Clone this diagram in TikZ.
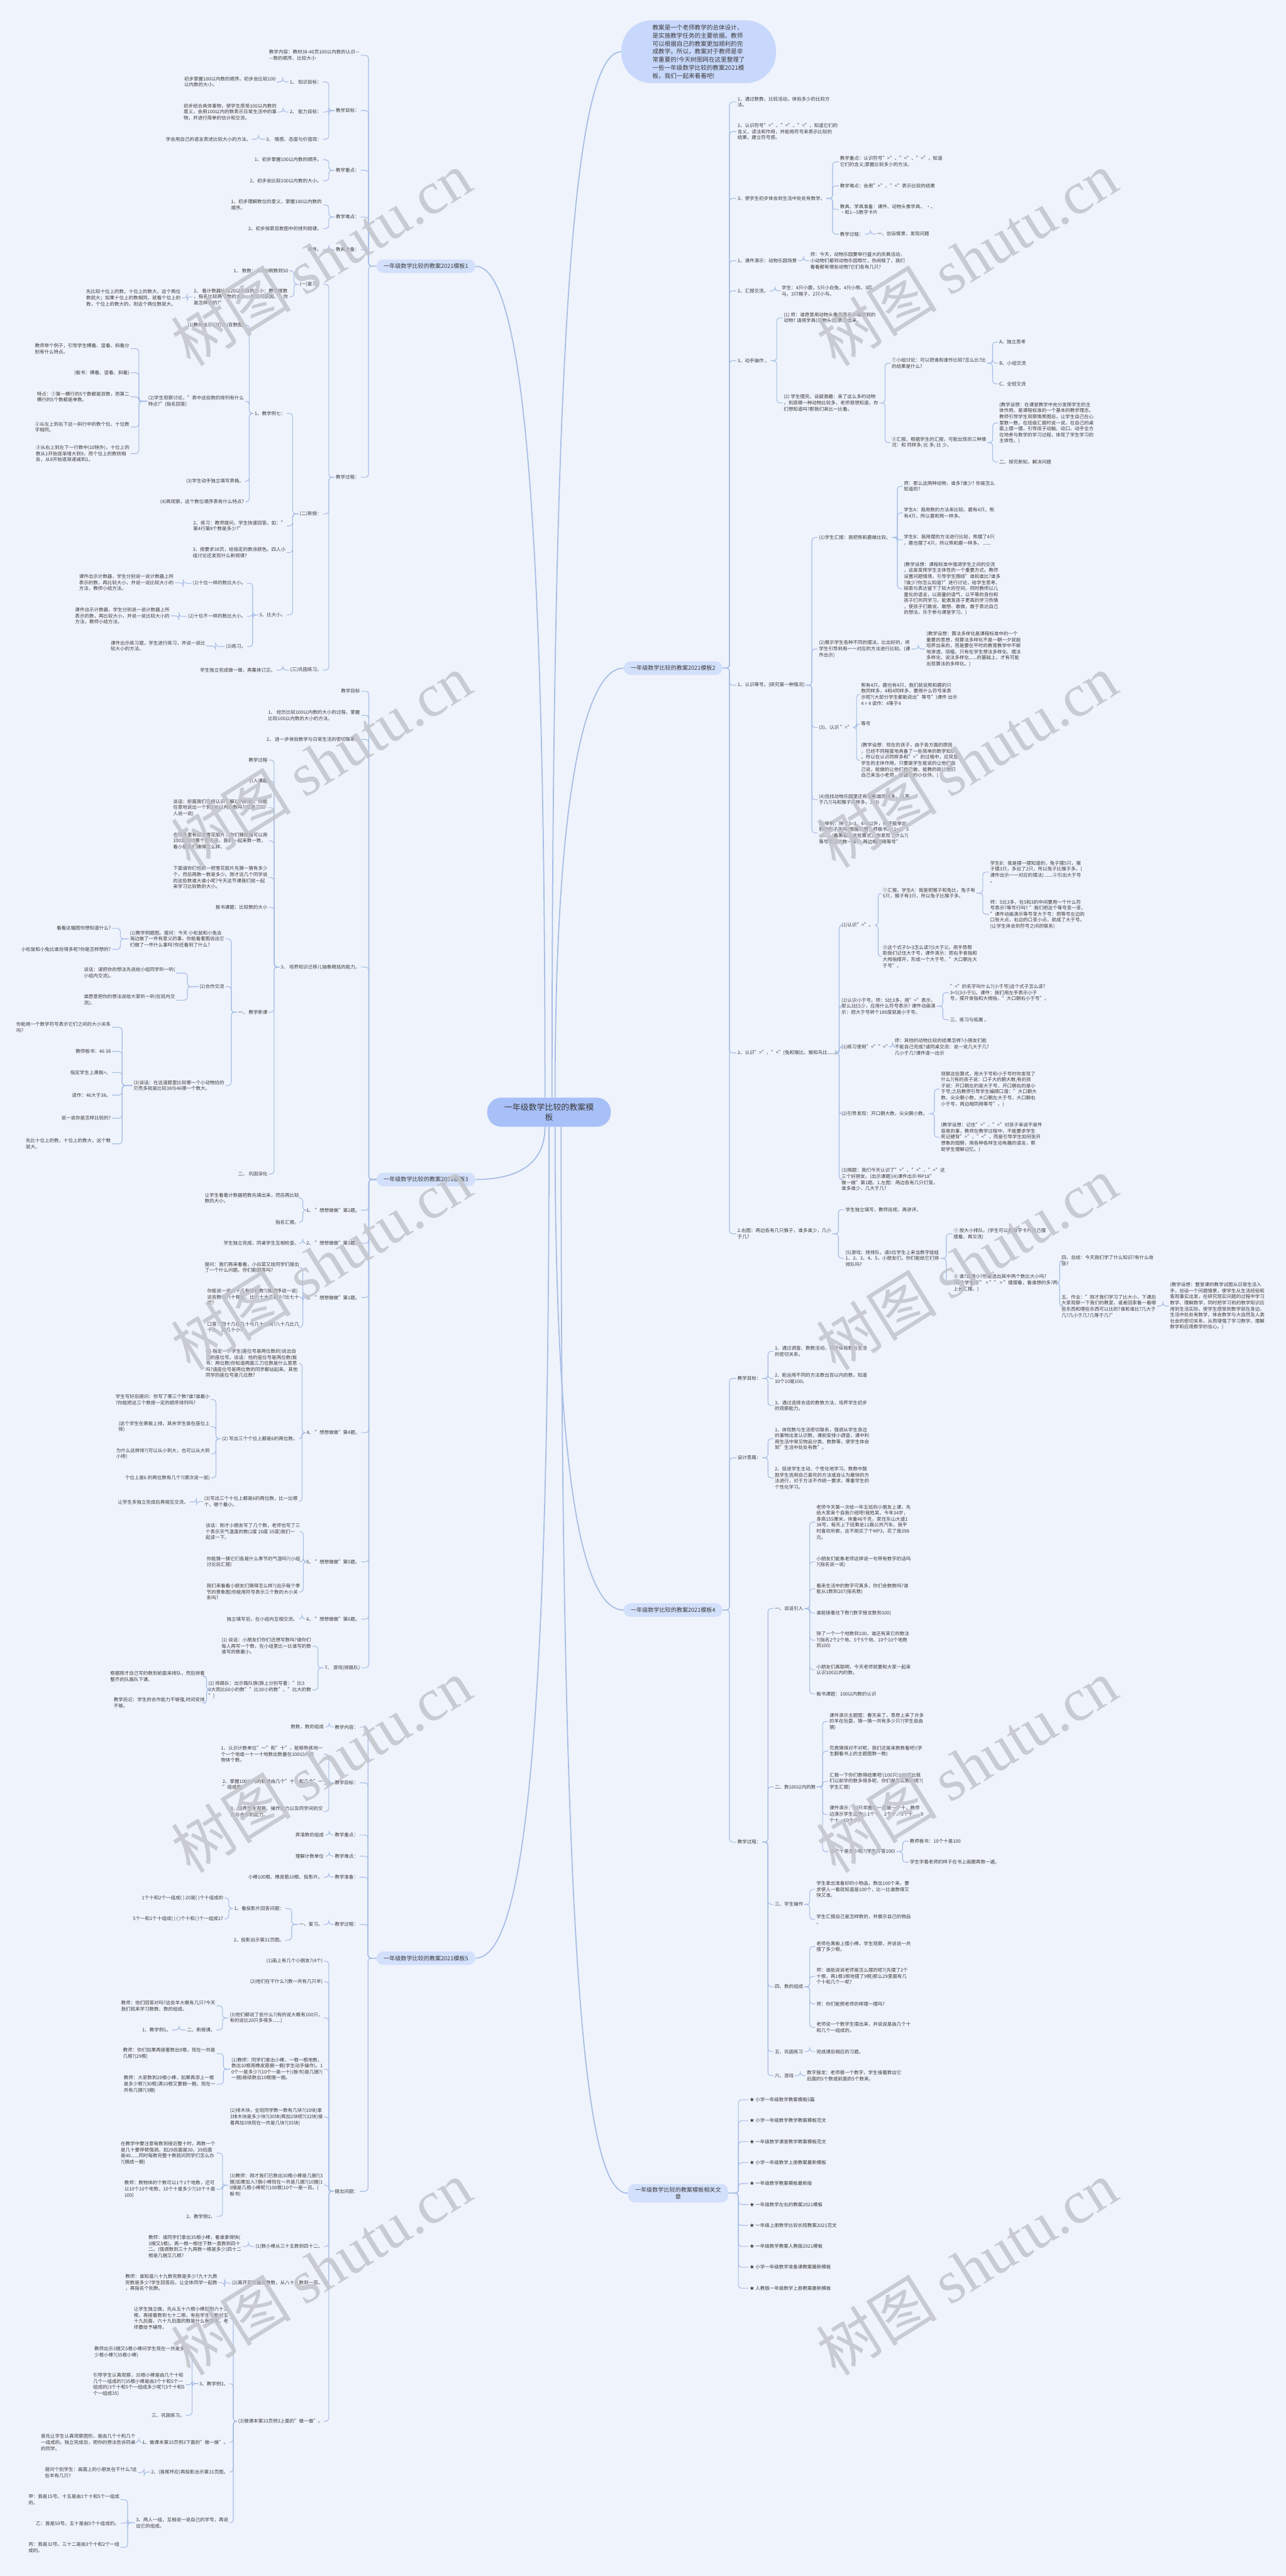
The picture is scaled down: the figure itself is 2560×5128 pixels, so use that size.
\documentclass[tikz,border=0pt]{standalone}
\usepackage{fontspec}
\setmainfont{Noto Sans CJK SC}
\newfontfamily\wmserif{Liberation Serif}
\usetikzlibrary{calc}
\definecolor{paper}{HTML}{EFF3FB}
\definecolor{wire}{HTML}{A6BDE6}
\definecolor{ink}{HTML}{3A3A3A}
\definecolor{pillblue}{HTML}{D3E0FC}
\definecolor{rootblue}{HTML}{A8C0F8}
\definecolor{introblue}{HTML}{C8D8FC}
\definecolor{wmgray}{HTML}{C2C5CB}
\tikzset{
  leaf/.style={font={\fontsize{4.7pt}{6pt}\selectfont}, text=ink, align=left, inner sep=1pt},
  lleaf/.style={leaf, anchor=east},
  rleaf/.style={leaf, anchor=west},
  link/.style={draw=wire, line width=0.7pt, rounded corners=3pt},
  trunk/.style={draw=wire, line width=1.1pt},
  pill/.style={rectangle, rounded corners=6.5pt, fill=pillblue, text=ink,
    font={\fontsize{5.7pt}{7pt}\selectfont}, inner xsep=7pt, inner ysep=3pt,
    minimum height=13.5pt, align=center},
  rootbox/.style={rectangle, rounded corners=14pt, fill=rootblue, text=ink,
    font={\fontsize{8.1pt}{10.5pt}\selectfont}, inner xsep=17pt, minimum height=29pt,
    align=center},
  introbox/.style={rectangle, rounded corners=30pt, fill=introblue, text=ink,
    font={\fontsize{6pt}{8pt}\selectfont}, inner xsep=31pt, inner ysep=3pt,
    minimum height=62.5pt, align=left},
  wmtext/.style={rotate=32, text=wmgray, opacity=0.85, font={\fontsize{60pt}{60pt}\selectfont}},
}
% elbow connectors: parent -> child
\newcommand\ljoin[2]{\draw[link] (#1.west) -| ($(#1.west)!.5!(#2.east)$) |- (#2.east);}
\newcommand\rjoin[2]{\draw[link] (#1.east) -| ($(#1.east)!.5!(#2.west)$) |- (#2.west);}
\newcommand\lfan[2]{\foreach \kid in {#2} {\ljoin{#1}{\kid}}}
\newcommand\rfan[2]{\foreach \kid in {#2} {\rjoin{#1}{\kid}}}

\begin{document}
\begin{tikzpicture}[x=0.5pt, y=-0.5pt]
  \fill[paper] (0,0) rectangle (2560,5128);
  \useasboundingbox (0,0) rectangle (2560,5128);

  \node[rootbox] (cen) at (1093,2214) {一年级数学比较的教案模\\板};
  \node[introbox] (intro) at (1391,103) {教案是一个老师教学的总体设计，\\是实施教学任务的主要依据。教师\\可以根据自己的教案更加顺利的完\\成教学。所以，教案对于教师是非\\常重要的!今天树图网在这里整理了\\一些一年级数学比较的教案2021模\\板，我们一起来看看吧!};
  \node[pill] (t1) at (848,530) {一年级数学比较的教案2021模板1};
  \node[pill] (t2) at (1340,1330) {一年级数学比较的教案2021模板2};
  \node[pill] (t3) at (848,2348) {一年级数学比较的教案2021模板3};
  \node[pill] (t4) at (1340,3205) {一年级数学比较的教案2021模板4};
  \node[pill] (t5) at (848,3898) {一年级数学比较的教案2021模板5};
  \node[pill] (rel) at (1350,4366) {一年级数学比较的教案模板相关文\\章};

  \draw[trunk] ([xshift=-4pt]cen.north) .. controls (1085,1000) and (1040,530) .. (t1.east);
  \draw[trunk] ([xshift=3pt]cen.north) .. controls (1099,700) and (1140,103) .. (intro.west);
  \draw[trunk] ([xshift=6pt]cen.north) .. controls (1105,1550) and (1170,1330) .. (t2.west);
  \draw[trunk] ([xshift=-4pt]cen.south) .. controls (1085,2330) and (1010,2348) .. (t3.east);
  \draw[trunk] (cen.south) .. controls (1093,3500) and (1040,3898) .. (t5.east);
  \draw[trunk] ([xshift=6pt]cen.south) .. controls (1105,2950) and (1160,3205) .. (t4.west);
  \draw[trunk] ([xshift=12pt]cen.south) .. controls (1117,4000) and (1170,4366) .. (rel.west);

  % branch 1
  \node[lleaf] (a1) at (718,110) {教学内容：教材38-40页100以内数的认识—\\—数的顺序、比较大小};
  \node[lleaf] (a2) at (718,220) {教学目标：};
  \node[lleaf] (a2a) at (643,163) {1、 知识目标：};
  \node[lleaf] (a2b) at (643,223) {2、 能力目标：};
  \node[lleaf] (a2c) at (643,277) {3、 情感、态度与价值观：};
  \node[lleaf] (a2a1) at (551,163) {初步掌握100以内数的顺序。初步会比较100\\以内数的大小。};
  \node[lleaf] (a2b1) at (553,223) {初步结合具体事物，使学生感受100以内数的\\意义，会用100以内的数表示日常生活中的事\\物，并进行简单的估计和交流。};
  \node[lleaf] (a2c1) at (502,277) {学会用自己的语言表述比较大小的方法。};
  \node[lleaf] (a3) at (718,339) {教学重点：};
  \node[lleaf] (a3a) at (643,318) {1、初步掌握100以内数的顺序。};
  \node[lleaf] (a3b) at (643,360) {2、初步会比较100以内数的大小。};
  \node[lleaf] (a4) at (718,432) {教学难点：};
  \node[lleaf] (a4a) at (643,408) {1、初步理解数位的意义，掌握100以内数的\\顺序。};
  \node[lleaf] (a4b) at (643,455) {2、初步探索百数图中的排列规律。};
  \node[lleaf] (a5) at (718,497) {教具准备：};
  \node[lleaf] (a5a) at (643,497) {课件。};
  \node[lleaf] (a6) at (718,950) {教学过程：};
  \node[lleaf] (b1) at (643,566) {(一)复习：};
  \node[lleaf] (b1a) at (576,539) {1、 数数：从100倒数到50};
  \node[lleaf] (b1b) at (576,591) {2、 看计数器比较20以内数的大小：教师拨数\\，指名比较两个数的大小，并说明原因。"你\\是怎样想的?"};
  \node[lleaf] (b1b1) at (362,593) {先比较十位上的数，十位上的数大，这个两位\\数就大；如果十位上的数相同，就看个位上的\\数，个位上的数大的，则这个两位数就大。};
  \node[lleaf] (b2) at (643,1023) {(二)新授：};
  \node[lleaf] (b2a) at (571,823) {1、教学例七：};
  \node[lleaf] (b2a1) at (488,647) {(1)教师出示幻灯片(百数图)};
  \node[lleaf] (b2a2) at (488,799) {(2)学生观察讨论，"表中这些数的排列有什么\\特点?"(指名回答)};
  \node[lleaf] (c1) at (260,694) {教师举个例子，引导学生横看、竖看、斜看分\\别有什么特点。};
  \node[lleaf] (c2) at (260,742) {(板书：横看、竖看、斜看)};
  \node[lleaf] (c3) at (260,790) {特点：①第一横行的5个数都是双数，而第二\\横行的5个数都是单数。};
  \node[lleaf] (c4) at (260,850) {②从左上到右下这一斜行中的数个位、十位数\\字相同。};
  \node[lleaf] (c5) at (260,903) {③从右上到左下一行数中(10除外)，十位上的\\数从1开始逐渐增大到9，而个位上的数则相\\反，从9开始逐渐递减到1。};
  \node[lleaf] (b2a3) at (488,958) {(3)学生动手独立填写表格。};
  \node[lleaf] (b2a4) at (488,999) {(4)再观察，这个数位顺序表有什么特点?};
  \node[lleaf] (b2b) at (571,1047) {2、练习：教师提问，学生快速回答。如："\\第4行第8个数是多少?"};
  \node[lleaf] (b2c) at (571,1100) {3、按要求38页，给指定的数涂颜色。四人小\\组讨论还发现什么新规律?};
  \node[lleaf] (b2d) at (571,1224) {3、比大小。};
  \node[lleaf] (b2d1) at (492,1161) {(1)十位一样的数比大小。};
  \node[lleaf] (b2d2) at (492,1227) {(2)十位不一样的数比大小。};
  \node[lleaf] (b2d3) at (492,1287) {(3)练习。};
  \node[lleaf] (d1) at (348,1160) {课件出示计数器，学生分别说一说计数器上所\\表示的数，再比较大小，并说一说比较大小的\\方法，教师小结方法。};
  \node[lleaf] (d2) at (340,1226) {课件出示计数器，学生分别说一说计数器上所\\表示的数，再比较大小，并说一说比较大小的\\方法，教师小结方法。};
  \node[lleaf] (d3) at (411,1286) {课件出示练习题，学生进行练习，并说一说比\\较大小的方法。};
  \node[lleaf] (b3) at (643,1334) {(三)巩固练习。};
  \node[lleaf] (b3a) at (551,1334) {学生独立完成做一做，再集体订正。};
  \lfan{t1}{a1,a2,a3,a4,a5,a6}
  \lfan{a2}{a2a,a2b,a2c}
  \ljoin{a2a}{a2a1} \ljoin{a2b}{a2b1} \ljoin{a2c}{a2c1}
  \lfan{a3}{a3a,a3b}
  \lfan{a4}{a4a,a4b}
  \ljoin{a5}{a5a}
  \lfan{a6}{b1,b2,b3}
  \lfan{b1}{b1a,b1b}
  \ljoin{b1b}{b1b1}
  \lfan{b2}{b2a,b2b,b2c,b2d}
  \lfan{b2a}{b2a1,b2a2,b2a3,b2a4}
  \lfan{b2a2}{c1,c2,c3,c4,c5}
  \lfan{b2d}{b2d1,b2d2,b2d3}
  \ljoin{b2d1}{d1} \ljoin{b2d2}{d2} \ljoin{b2d3}{d3}
  \ljoin{b3}{b3a}

  % branch 3
  \node[lleaf] (e1) at (719,1376) {教学目标};
  \node[lleaf] (e2) at (719,1424) {1、 经历比较100以内数的大小的过程，掌握\\比较100以内数的大小的方法。};
  \node[lleaf] (e3) at (719,1472) {2、 进一步体验数学与日常生活的密切联系。};
  \node[lleaf] (e4) at (719,1925) {3、 培养知识迁移儿抽象概括的能力。};
  \node[lleaf] (f1) at (535,1513) {教学过程};
  \node[lleaf] (f2) at (535,1555) {引入课题};
  \node[lleaf] (f3) at (535,1608) {谈话：前面我们已经认识了解以内的数，你能\\任意地说出一个到100以内的数吗?(指定三四\\人说一说)};
  \node[lleaf] (f4) at (535,1674) {老师手里有很多雪花胶片，你们猜猜看可以用\\100发内的哪个数表示。我们一起来数一数，\\看小朋友们猜得怎么样。};
  \node[lleaf] (f5) at (535,1747) {下面请你们也抓一把雪花胶片先猜一猜有多少\\个，然后再数一数是多少。刚才这几个同学说\\的这些数谁大谁小呢?今天这节课我们就一起\\来学习比较数的大小。};
  \node[lleaf] (f6) at (535,1806) {板书课题：比较数的大小};
  \node[lleaf] (f7) at (535,2015) {一、 教学新课};
  \node[lleaf] (g1) at (449,1869) {(1)教学例题图。提问：今天 小松鼠和小兔去\\海边做了一件有意义的事，你能看着图说出它\\们做了一件什么事吗?你还看到了什么?};
  \node[lleaf] (g1a) at (223,1848) {看看这幅图你想知道什么?};
  \node[lleaf] (g1b) at (223,1890) {小松鼠和小兔比谁捡得多呢?你是怎样想的?};
  \node[lleaf] (g2) at (449,1964) {(2)合作交流};
  \node[lleaf] (g2a) at (351,1937) {谈话：请把你的想法先说给小组同学听一听(\\小组内交流)。};
  \node[lleaf] (g2b) at (351,1991) {谁愿意把你的想法说给大家听一听(在班内交\\流)。};
  \node[lleaf] (g3) at (449,2161) {(3)谈话：在这道题里比较哪一个小动物捡的\\贝壳多就是比较38与46哪一个数大。};
  \node[lleaf] (g3a) at (223,2045) {你能用一个数学符号表示它们之间的大小关系\\吗?};
  \node[lleaf] (g3b) at (223,2093) {教师板书：46 38};
  \node[lleaf] (g3c) at (223,2135) {指定学生上黑板>。};
  \node[lleaf] (g3d) at (223,2180) {读作：46大于38。};
  \node[lleaf] (g3e) at (223,2226) {说一说你是怎样比较的?};
  \node[lleaf] (g3f) at (223,2277) {先比十位上的数，十位上的数大，这个数\\就大。};
  \node[lleaf] (f8) at (535,2337) {二、 巩固深化};
  \node[lleaf] (e5) at (719,2409) {1、 "想想做做"第2题。};
  \node[lleaf] (e5a) at (598,2385) {让学生看着计数器把数先填出来，然后再比较\\数的大小。};
  \node[lleaf] (e5b) at (598,2433) {指名汇报。};
  \node[lleaf] (e6) at (719,2475) {2、 "想想做做"第3题。};
  \node[lleaf] (e6a) at (598,2475) {学生独立完成，同桌学生互相检查。};
  \node[lleaf] (e7) at (719,2583) {3、 "想想做做"第1题。};
  \node[lleaf] (e7a) at (598,2523) {提问：我们再来看看，小白菜又给同学们提出\\了一个什么问题。你们能回答吗?};
  \node[lleaf] (e7b) at (598,2582) {你能说一说六十几有哪些数?(按顺序说一说)\\这些数与六十相比，比六十大还是小?比七十\\呢?};
  \node[lleaf] (e7c) at (598,2642) {口答：四十几在几十与几十之间?八十几比几\\十大，比几十小?};
  \node[lleaf] (e8) at (719,2852) {4、 "想想做做"第4题。};
  \node[lleaf] (e8a) at (595,2714) {(1) 指定一个学生(座位号是两位数的)说出自\\己的座位号。谈话：他的座位号是两位数(板\\书：两位数)你知道两面三刀位数是什么意思\\吗?请座位号是两位数的同学都站起来。其他\\同学的座位号是几位数?};
  \node[lleaf] (e8b) at (595,2864) {(2) 写出三个个位上都是6的两位数。};
  \node[lleaf] (h1) at (420,2786) {学生写好后提问：你写了哪三个数?谁?谁最小\\?你能把这三个数按一定的顺序排列吗?};
  \node[lleaf] (h2) at (420,2840) {(这个学生在黑板上排，其余学生装在座位上\\排)};
  \node[lleaf] (h3) at (420,2894) {为什么这样排?(可以从小到大，也可以从大到\\小排)};
  \node[lleaf] (h4) at (420,2942) {个位上是6 的两位数有几个?(顺次说一说)};
  \node[lleaf] (e8c) at (595,2989) {(3)写出三个十位上都是6的两位数，比一比哪\\个，哪个最小。};
  \node[lleaf] (e8c1) at (378,2990) {让学生多独立完成后再相互交流。};
  \node[lleaf] (e9) at (719,3109) {5、 "想想做做"第5题。};
  \node[lleaf] (e9a) at (600,3049) {谈话：刚才小朋友写了几个数，老师也写了三\\个表示天气温度的数(2度 20度 35度)我们一\\起读一下。};
  \node[lleaf] (e9b) at (600,3109) {你能猜一猜它们各是什么季节的气温吗?(小组\\讨论后汇报)};
  \node[lleaf] (e9c) at (600,3169) {我们来看看小朋友们猜得怎么样?(出示每个季\\节的景象图)你能用符号表示三个数的大小关\\系吗?};
  \node[lleaf] (e10) at (719,3223) {6、 "想想做做"第6题。};
  \node[lleaf] (e10a) at (595,3223) {独立填写后，在小组内互相交流。};
  \node[lleaf] (e11) at (719,3320) {7、 游戏(排路队)};
  \node[lleaf] (e11a) at (622,3277) {(1) 谈话：小朋友们你们还想写数吗?请你们\\每人再写一个数，在小组里比一比谁写的数\\谁写的数最小。};
  \node[lleaf] (e11b) at (622,3364) {(2) 排路队：出示路队旗(旗上分别写着："比3\\0大而比60小的数""比30小的数"、"比大的数\\")};
  \node[lleaf] (e11b1) at (410,3337) {根据刚才自己写的数到前面来排队，然后排着\\整齐的队路队下课。};
  \node[lleaf] (e11b2) at (410,3390) {教学后记：学生的合作能力不够强,时间安排\\不够。};
  \lfan{t3}{e1,e2,e3,e4,e5,e6,e7,e8,e9,e10,e11}
  \lfan{e4}{f1,f2,f3,f4,f5,f6,f7,f8}
  \lfan{f7}{g1,g2,g3}
  \lfan{g1}{g1a,g1b}
  \lfan{g2}{g2a,g2b}
  \lfan{g3}{g3a,g3b,g3c,g3d,g3e,g3f}
  \lfan{e5}{e5a,e5b}
  \ljoin{e6}{e6a}
  \lfan{e7}{e7a,e7b,e7c}
  \lfan{e8}{e8a,e8b,e8c}
  \lfan{e8b}{h1,h2,h3,h4}
  \ljoin{e8c}{e8c1}
  \lfan{e9}{e9a,e9b,e9c}
  \ljoin{e10}{e10a}
  \lfan{e11}{e11a,e11b}
  \lfan{e11b}{e11b1,e11b2}

  % branch 5
  \node[lleaf] (k1) at (716,3438) {教学内容：};
  \node[lleaf] (k1a) at (647,3438) {数数，数的组成};
  \node[lleaf] (k2) at (716,3549) {教学目标：};
  \node[lleaf] (k2a) at (645,3492) {1、认识计数单位"一"和"十"，能够熟练地一\\个一个地或一十一十地数出数量在100以内的\\物体个数。};
  \node[lleaf] (k2b) at (645,3552) {2、掌握100以内的数是由几个"十"和几个"一\\"组成的。};
  \node[lleaf] (k2c) at (645,3606) {3、培养学生观察、操作能力以及同学间的交\\流与合作的能力。};
  \node[lleaf] (k3) at (716,3653) {教学重点：};
  \node[lleaf] (k3a) at (647,3653) {弄清数的组成};
  \node[lleaf] (k4) at (716,3695) {教学难点：};
  \node[lleaf] (k4a) at (647,3695) {理解计数单位};
  \node[lleaf] (k5) at (716,3737) {教学准备：};
  \node[lleaf] (k5a) at (645,3737) {小棒100根、橡皮筋10根、投影片。};
  \node[lleaf] (k6) at (716,3831) {教学过程：};
  \node[lleaf] (k6a) at (645,3831) {一、复习。};
  \node[lleaf] (m1) at (568,3799) {1、看投影片回答问题：};
  \node[lleaf] (m1a) at (447,3778) {1个十和2个一组成( ) 20是( )个十组成的};
  \node[lleaf] (m1b) at (447,3820) {5个一和1个十组成( ) ( )个十和( )个一组成17};
  \node[lleaf] (m2) at (568,3862) {2、投影出示第31页图。};
  \node[lleaf] (k7) at (716,4362) {提出问题：};
  \node[lleaf] (n1) at (645,3904) {(1)画上有几个小朋友?(4个)};
  \node[lleaf] (n2) at (645,3945) {(2)他们在干什么?(数一共有几只羊)};
  \node[lleaf] (n3) at (645,4017) {(3)他们都说了些什么?(有的说大概有100只，\\有的说比20只多得多......)};
  \node[lleaf] (n3a) at (431,3993) {教师：他们回答对吗?这些羊大概有几只?今天\\我们就来学习数数、数的组成。};
  \node[lleaf] (n3b) at (431,4041) {二、新授课。};
  \node[lleaf] (n3b1) at (343,4041) {1、教学例1。};
  \node[lleaf] (n4) at (645,4119) {(1)教师：同学们拿出小棒，一根一根地数，\\数出10根用橡皮筋捆一捆(学生动手操作)。1\\0个一是多少?(10个一是一十)(板书)是几捆?(\\一捆)继续数出10根捆一捆。};
  \node[lleaf] (n4a) at (431,4088) {教师：你们如果再接着数出9根，现在一共是\\几根?(29根)};
  \node[lleaf] (n4b) at (431,4149) {教师：大家数到29根小棒，如果再添上一根\\是多少根?(30根)满10根又要捆一捆，现在一\\共有几捆?(3捆)};
  \node[lleaf] (n5) at (645,4214) {(2)排木块，全班同学数一数有几块?(10块)拿\\3排木块是多少块?(30块)再加2块呢?(32块)接\\着再加3块现在一共是几块?(35块)};
  \node[lleaf] (n6) at (645,4350) {(3)教师：刚才我们已数出30根小棒是几捆?(3\\捆)如果加入7捆小棒现在一共是几捆?(10捆)1\\0捆是几根小棒呢?(100根)10个一是一百。(\\板书)};
  \node[lleaf] (n6a) at (431,4286) {在教学中要注意每数到接近整十时，再数一个\\是几十要停顿强调。如29后面是30，39后面\\是40......同时每数完整十数就问同学们怎么办\\?(捆成一捆)};
  \node[lleaf] (n6b) at (431,4358) {教师：数物体的个数可以1个1个地数，还可\\以10个10个地数，10个十是多少?(10个十是\\100)};
  \node[lleaf] (n6c) at (431,4412) {2、教学例2。};
  \node[lleaf] (n7) at (645,4472) {(1)数小棒从三十五数到四十二。};
  \node[lleaf] (n7a) at (483,4472) {教师：请同学们拿出35根小棒，看谁拿得快(\\3捆又5根)，再一根一根往下数一直数到四十\\二。(强调数到三十九再数一根是多少)四十二\\根是几捆又几根?};
  \node[lleaf] (n8) at (645,4545) {(2)离开实物直接数数，从八十八数到一百。};
  \node[lleaf] (n8a) at (435,4544) {教师：谁知道八十九数完数是多少?九十九数\\完数是多少?学生回答后，让全体同学一起数\\，再指名个别数。};
  \node[lleaf] (n9) at (645,4820) {(3)做课本第33页例3上面的"做一做"。};
  \node[lleaf] (p1) at (457,4615) {让学生独立做，先从五十六根小棒数到六十三\\根，再接着数到七十二根，有些学生可能对五\\十九后面，六十九后面的数是什么有困难，老\\师要给予辅导。};
  \node[lleaf] (p2) at (457,4745) {3、教学例3。};
  \node[lleaf] (p2a) at (370,4682) {教师出示3捆又5根小棒问学生现在一共是多\\少根小棒?(35根小棒)};
  \node[lleaf] (p2b) at (370,4747) {引导学生认真观察，35根小棒是由几个十和\\几个一组成的?(35根小棒是由3个十和5个一\\组成的)3个十和5个一组成多少呢?(3个十和5\\个一组成35)};
  \node[lleaf] (p2c) at (370,4808) {三、巩固练习。};
  \node[lleaf] (p3) at (457,4862) {1、做课本第33页例3下面的"做一做"。};
  \node[lleaf] (p3a) at (272,4862) {首先让学生认真观察图形，是由几个十和几个\\一组成的。独立完成后，把你的想法告诉同桌\\的同学。};
  \node[lleaf] (p4) at (457,4921) {2、(首尾呼应)再投影出示第31页图。};
  \node[lleaf] (p4a) at (275,4922) {提问个别学生：画面上的小朋友在干什么?这\\些羊有几只?};
  \node[lleaf] (p5) at (457,5022) {3、两人一组，互相说一说自己的学号，再说\\出它的组成。};
  \node[lleaf] (p5a) at (240,4976) {甲：我是15号。十五是由1个十和5个一组成\\的。};
  \node[lleaf] (p5b) at (240,5023) {乙：我是50号。五十是由5个十组成的。};
  \node[lleaf] (p5c) at (240,5071) {丙：我是32号。三十二是由3个十和2个一组\\成的。};
  \lfan{t5}{k1,k2,k3,k4,k5,k6,k7}
  \ljoin{k1}{k1a}
  \lfan{k2}{k2a,k2b,k2c}
  \ljoin{k3}{k3a} \ljoin{k4}{k4a} \ljoin{k5}{k5a} \ljoin{k6}{k6a}
  \lfan{k6a}{m1,m2}
  \lfan{m1}{m1a,m1b}
  \lfan{k7}{n1,n2,n3,n4,n5,n6,n7,n8,n9}
  \lfan{n3}{n3a,n3b}
  \ljoin{n3b}{n3b1}
  \lfan{n4}{n4a,n4b}
  \lfan{n6}{n6a,n6b,n6c}
  \ljoin{n7}{n7a} \ljoin{n8}{n8a}
  \lfan{n9}{p1,p2,p3,p4,p5}
  \lfan{p2}{p2a,p2b,p2c}
  \ljoin{p3}{p3a} \ljoin{p4}{p4a}
  \lfan{p5}{p5a,p5b,p5c}

  % branch 2
  \node[rleaf] (r1) at (1466,203) {1、通过数数、比较活动，体验多少的比较方\\法。};
  \node[rleaf] (r2) at (1466,262) {2、认识符号">"、"<"、"="，知道它们的\\含义、读法和作用，并能用符号来表示比较的\\结果，建立符号感。};
  \node[rleaf] (r3) at (1466,395) {3、使学生初步体会到生活中处处有数学。};
  \node[rleaf] (r3a) at (1670,322) {教学重点：认识符号">"、"<"、"="，知道\\它们的含义;掌握比较多少的方法。};
  \node[rleaf] (r3b) at (1670,370) {教学难点：会用">"、"<"表示比较的结果};
  \node[rleaf] (r3c) at (1670,417) {教具、学具准备：课件、动物头像学具、 •、\\•和1—5数字卡片};
  \node[rleaf] (r3d) at (1670,466) {教学过程：};
  \node[rleaf] (r3d1) at (1744,466) {一、创设情景，发现问题};
  \node[rleaf] (r4) at (1466,519) {1、课件演示：动物乐园场景};
  \node[rleaf] (r4a) at (1611,519) {师：今天，动物乐园要举行盛大的庆典活动，\\小动物们都到动物乐园帮忙，热闹极了，我们\\看看都有哪些动物?它们各有几只?};
  \node[rleaf] (r5) at (1466,579) {2、汇报交流。};
  \node[rleaf] (r5a) at (1554,579) {学生：4只小鹿，5只小白兔，4只小熊，3匹\\马，3只猴子，2只小鸟。};
  \node[rleaf] (r6) at (1466,718) {3、动手操作 。};
  \node[rleaf] (r6a) at (1558,633) {(1) 师：谁愿意用动物头像来表示你观察到的\\动物? 请用学具(动物头像)表示出来。};
  \node[rleaf] (r6b) at (1558,802) {(2) 学生摆完，设疑激趣：来了这么多的动物\\，到底哪一种动物比较多，老师很想知道，你\\们想知道吗?那我们来比一比看。};
  \node[rleaf] (s1) at (1773,723) {①小组讨论：可以把谁和谁作比较?怎么比?比\\的结果是什么?};
  \node[rleaf] (s1a) at (1987,681) {A、独立思考};
  \node[rleaf] (s1b) at (1987,723) {B、小组交流};
  \node[rleaf] (s1c) at (1987,764) {C、全班交流};
  \node[rleaf] (s2) at (1773,881) {②汇报，根据学生的汇报，可能出现的三种情\\况：和 同样多; 比 多; 比 少。};
  \node[rleaf] (s2a) at (1987,842) {(教学设想：在课堂教学中充分发挥学生的主\\体作用，是课程标准的一个基本的教学理念。\\教师引导学生观察情景图后，让学生自己在心\\里数一数，在班级汇报时说一说，在自己的桌\\面上摆一摆，引导孩子动脑、动口、动手全方\\位地参与数学的学习过程，体现了学生学习的\\主体性。)};
  \node[rleaf] (s2b) at (1987,920) {二、探究新知，解决问题};
  \node[rleaf] (r7) at (1466,1364) {1、认识等号。(研究第一种情况)};
  \node[rleaf] (u1) at (1628,1070) {(1)学生汇报：我把熊和鹿做比较。};
  \node[rleaf] (u1a) at (1797,968) {师：那么这两种动物，谁多?谁少? 你是怎么\\知道的?};
  \node[rleaf] (u1b) at (1797,1021) {学生A：我用数的方法来比较。鹿有4只，熊\\有4只，所以鹿和熊一样多。};
  \node[rleaf] (u1c) at (1797,1075) {学生B：我用摆的方法进行比较，熊摆了4只\\，鹿也摆了4只，所以熊和鹿一样多。 ......};
  \node[rleaf] (u1d) at (1797,1172) {(教学设想：课程标准中强调学生之间的交流\\，这是发挥学生主体性的一个重要方式。教师\\设置问题情境，引导学生围绕"谁和谁比?谁多\\?谁少?你怎么知道?"进行讨论，给学生思考、\\探索与表达留下了较大的空间。同时教师以儿\\童化的语言，以商量的语气，以平等的身份和\\孩子们共同学习，能激发孩子更高的学习热情\\，使孩子们敢说、敢想、敢做，敢于表达自己\\的想法，乐于参与课堂学习。)};
  \node[rleaf] (u2) at (1628,1292) {(2)展示学生各种不同的摆法，比出好的，将\\学生引导到用一一对应的方法进行比较。(课\\件出示)};
  \node[rleaf] (u2a) at (1842,1292) {(教学设想：算法多样化是课程标准中的一个\\重要的思想，但算法多样化不是一朝一夕就能\\培养出来的，而是要在平时的教育教学中不断\\地渗透、培植。只有在学生想法多样化、摆法\\多样化、说法多样化......的基础上，才有可能\\出现算法的多样化。)};
  \node[rleaf] (u3) at (1628,1448) {(3)、认识 "="};
  \node[rleaf] (u3a) at (1712,1382) {熊有4只，鹿也有4只，我们就说熊和鹿的只\\数同样多，4和4同样多，要用什么符号来表\\示呢?(大部分学生都能说出"等号")课件 出示\\4 = 4 读作：4等于4};
  \node[rleaf] (u3b) at (1712,1441) {等号};
  \node[rleaf] (u3c) at (1712,1514) {(教学设想：现在的孩子，由于各方面的原因\\，已经不同程度地具备了一些简单的数学知识\\。所以在认识同样多和"="的过程中，应突显\\学生的主体作用，只要是学生能说的让他们自\\己说，能做的让他们自己做，能教的就让他们\\自己来当小老师，教自己的小伙伴。)};
  \node[rleaf] (u4) at (1628,1592) {(4)找找动物乐园里还有谁和谁同样多，几等\\于几?(马和猴子同样多，3=3)};
  \node[rleaf] (u5) at (1628,1658) {(5)举例：除了3=3，4=4以外，你还能举出\\别的例子来吗?根据汇报，师板书。(1=1，5\\=5......)看黑板上这些算式，你发现了什么?(\\等号两边的数一样)"两边相同用等号"};
  \node[rleaf] (r8) at (1466,2096) {2、认识">"、"<"(兔和猴比、猴和鸟比......)};
  \node[rleaf] (v1) at (1673,1842) {(1)认识">"。};
  \node[rleaf] (v1a) at (1755,1778) {①汇报。学生A：我是把猴子和兔比，兔子有\\5只，猴子有3只，所以兔子比猴子多。};
  \node[rleaf] (v1a1) at (1969,1736) {学生B：我是摆一摆知道的，兔子摆5只，猴\\子摆3只，多出了2只，所以兔子比猴子多。(\\课件出示一一对应的摆法) ......②引出大于号\\。};
  \node[rleaf] (v1a2) at (1969,1820) {师：5比3多，在5和3的中间要用一个什么符\\号表示?等号行吗? "我们把这个等号变一变，\\"课件动画演示等号变大于号：把等号左边的\\口张大点，右边的口变小点，就成了大于号。\\(让学生体会到符号之间的联系)};
  \node[rleaf] (v1b) at (1755,1904) {③这个式子5>3怎么读?(5大于3)，用手势帮\\助我们记住大于号，课件演示：把右手食指和\\大拇指撑开，形成一个大于号，"大口朝左大\\于号"。};
  \node[rleaf] (v2) at (1673,2003) {(2)认识小于号。师：5比3多，用">"表示，\\那么3比5少，应用什么符号表示? 课件动画演\\示：把大于号转个180度就是小于号。};
  \node[rleaf] (v2a) at (1889,1976) {"<"的名字叫什么?(小于号)这个式子怎么读?\\3<5(3小于5)。课件：我们用左手表示小于\\号，撑开食指和大拇指，"大口朝右小于号"。};
  \node[rleaf] (v2b) at (1889,2030) {三、练习与拓展 。};
  \node[rleaf] (v3) at (1673,2084) {(1)练习使用"<"">"};
  \node[rleaf] (v3a) at (1779,2084) {师：其他的动物比较的结果怎样?小朋友们能\\不能自己完成?请同桌交流：说一说几大于几?\\几小于几?课件逐一出示};
  \node[rleaf] (v4) at (1673,2217) {(2)引导发现：开口朝大数，尖尖朝小数。};
  \node[rleaf] (v4a) at (1871,2168) {观察这些算式，用大于号和小于号时你发现了\\什么?(有的孩子说：口子大的朝大数;有的孩\\子说：开口朝左的是大于号、开口朝右的是小\\于号;之后教师引导学生编顺口溜："大口朝大\\数，尖尖朝小数，大口朝左大于号，大口朝右\\小于号，两边相同用等号"。)};
  \node[rleaf] (v4b) at (1871,2264) {(教学设想：记住">"、"<"对孩子来说不是件\\容易的事，教师在教学过程中，不能要求学生\\死记硬背">"、"<"，而是引导学生如何张开\\想象的翅膀，用各种各样生动有趣的语言，帮\\助学生理解记忆。)};
  \node[rleaf] (v5) at (1673,2348) {(3)揭题：我们今天认识了">"、"<"、"="这\\三个好朋友。(出示课题)(4)课件出示书P18"\\做一做"第1题。1.左图：两边各有几只灯笼，\\谁多谁少，几大于几?};
  \node[rleaf] (r9) at (1466,2456) {2.右图：两边各有几只猴子，谁多谁少，几小\\于几?};
  \node[rleaf] (w1) at (1681,2408) {学生独立填写，教师巡视，再讲评。};
  \node[rleaf] (w2) at (1681,2505) {(5)游戏：排排队，请5位学生上来当数字娃娃\\1、2、3、4、5，小朋友们，你们能给它们排\\排队吗?};
  \node[rleaf] (w2a) at (1896,2456) {① 按大小排队。(学生可以用数字卡片自己摆\\摆看，再交流)};
  \node[rleaf] (w2b) at (1896,2554) {② 谁?谁最小?你能选出其中两个数比大小吗?\\(每个学生用 " < "" > "摆摆看，看谁想的多?再\\上台汇报。)};
  \node[rleaf] (w2b1) at (2111,2510) {四、总结：今天我们学了什么知识?有什么收\\获?};
  \node[rleaf] (w2b2) at (2111,2600) {五、作业："刚才我们学习了比大小，下课后\\大家观察一下我们的教室，或者回家看一看哪\\些东西和哪些东西可以比的?谁和谁比?几大于\\几?几小于几?几等于几?"};
  \node[rleaf] (w2b2a) at (2327,2600) {(教学设想：整堂课的教学试图从日常生活入\\手，创设一个问题情景，使学生从生活经验和\\客观事实出发，在研究现实问题的过程中学习\\数学、理解数学，同时把学习到的数学知识应\\用到生活实际，使学生感受到数学就在身边，\\生活中处处有数学，体会数学与大自然及人类\\社会的密切关系，从而增强了学习数学、理解\\数学和应用数学的信心。)};
  \rfan{t2}{r1,r2,r3,r4,r5,r6,r7,r8,r9}
  \rfan{r3}{r3a,r3b,r3c,r3d}
  \rjoin{r3d}{r3d1} \rjoin{r4}{r4a} \rjoin{r5}{r5a}
  \rfan{r6}{r6a,r6b}
  \rfan{r6b}{s1,s2}
  \rfan{s1}{s1a,s1b,s1c}
  \rfan{s2}{s2a,s2b}
  \rfan{r7}{u1,u2,u3,u4,u5}
  \rfan{u1}{u1a,u1b,u1c,u1d}
  \rjoin{u2}{u2a}
  \rfan{u3}{u3a,u3b,u3c}
  \rfan{r8}{v1,v2,v3,v4,v5}
  \rfan{v1}{v1a,v1b}
  \rfan{v1a}{v1a1,v1a2}
  \rfan{v2}{v2a,v2b}
  \rjoin{v3}{v3a}
  \rfan{v4}{v4a,v4b}
  \rfan{r9}{w1,w2}
  \rfan{w2}{w2a,w2b}
  \rfan{w2b}{w2b1,w2b2}
  \rjoin{w2b2}{w2b2a}

  % branch 4
  \node[rleaf] (x1) at (1466,2744) {教学目标：};
  \node[rleaf] (x1a) at (1540,2690) {1、通过调查、数数活动，初步体验数与生活\\的密切关系。};
  \node[rleaf] (x1b) at (1540,2744) {2、能运用不同的方法数出百以内的数，知道\\10个10是100。};
  \node[rleaf] (x1c) at (1540,2798) {3、通过选择合适的数数方法，培养学生初步\\的观察能力。};
  \node[rleaf] (x2) at (1466,2902) {设计思路：};
  \node[rleaf] (x2a) at (1540,2864) {1、体现数与生活密切联系，强调从学生身边\\的事物出发认识数，课前安排小调查，课中利\\用生活中常见物品分类、数数等，使学生体会\\到"生活中处处有数"。};
  \node[rleaf] (x2b) at (1540,2942) {2、促进学生主动、个性化地学习。数数中鼓\\励学生选用自己喜欢的方法或自认为最快的方\\法进行，对于方法不作统一要求，尊重学生的\\个性化学习。};
  \node[rleaf] (x3) at (1466,3667) {教学过程：};
  \node[rleaf] (y1) at (1540,3202) {一、谈话引入};
  \node[rleaf] (y1a) at (1623,3030) {老师今天第一次给一年五班的小朋友上课，先\\给大家来个自我介绍吧!我姓吴，今年34岁，\\身高155厘米，体重46千克，家住东山大道1\\38号，每天上下班乘坐11路公共汽车。我平\\时喜欢听歌，这不刚买了个MP3，花了我398\\元。};
  \node[rleaf] (y1b) at (1623,3109) {小朋友们能象老师这样说一句带有数字的话吗\\?(指名说一说)};
  \node[rleaf] (y1c) at (1623,3163) {看来生活中的数字可真多，你们会数数吗?谁\\能从1数到20?(指名数)};
  \node[rleaf] (y1d) at (1623,3211) {谁能接着往下数?(数字接龙数到100)};
  \node[rleaf] (y1e) at (1623,3265) {除了一个一个地数到100，谁还有其它的数法\\?(指名2个2个地、5个5个地、10个10个地数\\到100)};
  \node[rleaf] (y1f) at (1623,3324) {小朋友们真聪明，今天老师就要和大家一起来\\认识100以内的数。};
  \node[rleaf] (y1g) at (1623,3372) {板书课题：100以内数的认识};
  \node[rleaf] (y2) at (1540,3557) {二、数100以内的数};
  \node[rleaf] (y2a) at (1649,3427) {课件演示主题图：春天来了，草原上来了许多\\的羊在玩耍，猜一猜一共有多少只?(学生自由\\猜)};
  \node[rleaf] (y2b) at (1649,3486) {究竟猜得对不对呢，我们还是来数数看吧!(学\\生翻看书上的主题图数一数)};
  \node[rleaf] (y2c) at (1649,3546) {汇报一下你们数得结果吧!(100只)100可比我\\们以前学的数多得多呢，你们是怎么数的呢?(\\学生汇报)};
  \node[rleaf] (y2d) at (1649,3612) {课件演示：10只羊圈在一起是一个十，教师\\边演示学生边数：1个十、2个十、3个十......9\\个十、10个十)};
  \node[rleaf] (y2e) at (1649,3686) {10个十是多少呢?(学生齐答100)};
  \node[rleaf] (y2e1) at (1809,3665) {教师板书：10个十是100};
  \node[rleaf] (y2e2) at (1809,3707) {学生学着老师的样子在书上画圈再数一遍。};
  \node[rleaf] (y3) at (1540,3791) {三、学生操作};
  \node[rleaf] (y3a) at (1623,3761) {学生拿出准备好的小物品，数出100个来，要\\求使人一看就知道是100个，比一比谁数得又\\快又准。};
  \node[rleaf] (y3b) at (1623,3821) {学生汇报自己是怎样数的，并展示自己的物品\\。};
  \node[rleaf] (y4) at (1540,3955) {四、数的组成};
  \node[rleaf] (y4a) at (1623,3875) {老师在黑板上摆小棒，学生观察，并说说一共\\摆了多少根。};
  \node[rleaf] (y4b) at (1623,3934) {师：谁能说说老师是怎么摆的呢?(先摆了2个\\十根，再1根1根地摆了9根)那么29里面有几\\个十和几个一呢?};
  \node[rleaf] (y4c) at (1623,3989) {师：你们能照老师的样摆一摆吗?};
  \node[rleaf] (y4d) at (1623,4036) {老师说一个数学生摆出来，并说说是由几个十\\和几个一组成的。};
  \node[rleaf] (y5) at (1540,4084) {五、巩固练习};
  \node[rleaf] (y5a) at (1623,4084) {完成课后相应的习题。};
  \node[rleaf] (y6) at (1540,4132) {六、游戏};
  \node[rleaf] (y6a) at (1604,4132) {数字接龙：老师报一个数字，学生接着数出它\\后面的5个数或前面的5个数来。};
  \rfan{t4}{x1,x2,x3}
  \rfan{x1}{x1a,x1b,x1c}
  \rfan{x2}{x2a,x2b}
  \rfan{x3}{y1,y2,y3,y4,y5,y6}
  \rfan{y1}{y1a,y1b,y1c,y1d,y1e,y1f,y1g}
  \rfan{y2}{y2a,y2b,y2c,y2d,y2e}
  \rfan{y2e}{y2e1,y2e2}
  \rfan{y3}{y3a,y3b}
  \rfan{y4}{y4a,y4b,y4c,y4d}
  \rjoin{y5}{y5a} \rjoin{y6}{y6a}

  % related articles
  \foreach \txt [count=\k] in {小学一年级数学教案模板5篇, 小学一年级数学教学教案模板范文,
      一年级数学课堂教学教案模板范文, 小学一年级数学上册教案最新模板, 一年级数学教案模板最新版,
      一年级数学左右的教案2021模板, 一年级上册数学比较长短教案2021范文, 一年级数学教案人教版2021模板,
      小学一年级数学准备课教案最新模板, 人教版一年级数学上册教案最新模板} {
    \node[rleaf] (z\k) at ({1490},{4180+41.67*(\k-1)}) {★ \txt};
    \rjoin{rel}{z\k}
  }

  % watermarks
  \foreach \wx in {640,1925} \foreach \wy in {515,1515,2515,3515,4515}
    \node[wmtext] at (\wx,\wy) {树图 {\wmserif shutu.cn}};
\end{tikzpicture}
\end{document}
